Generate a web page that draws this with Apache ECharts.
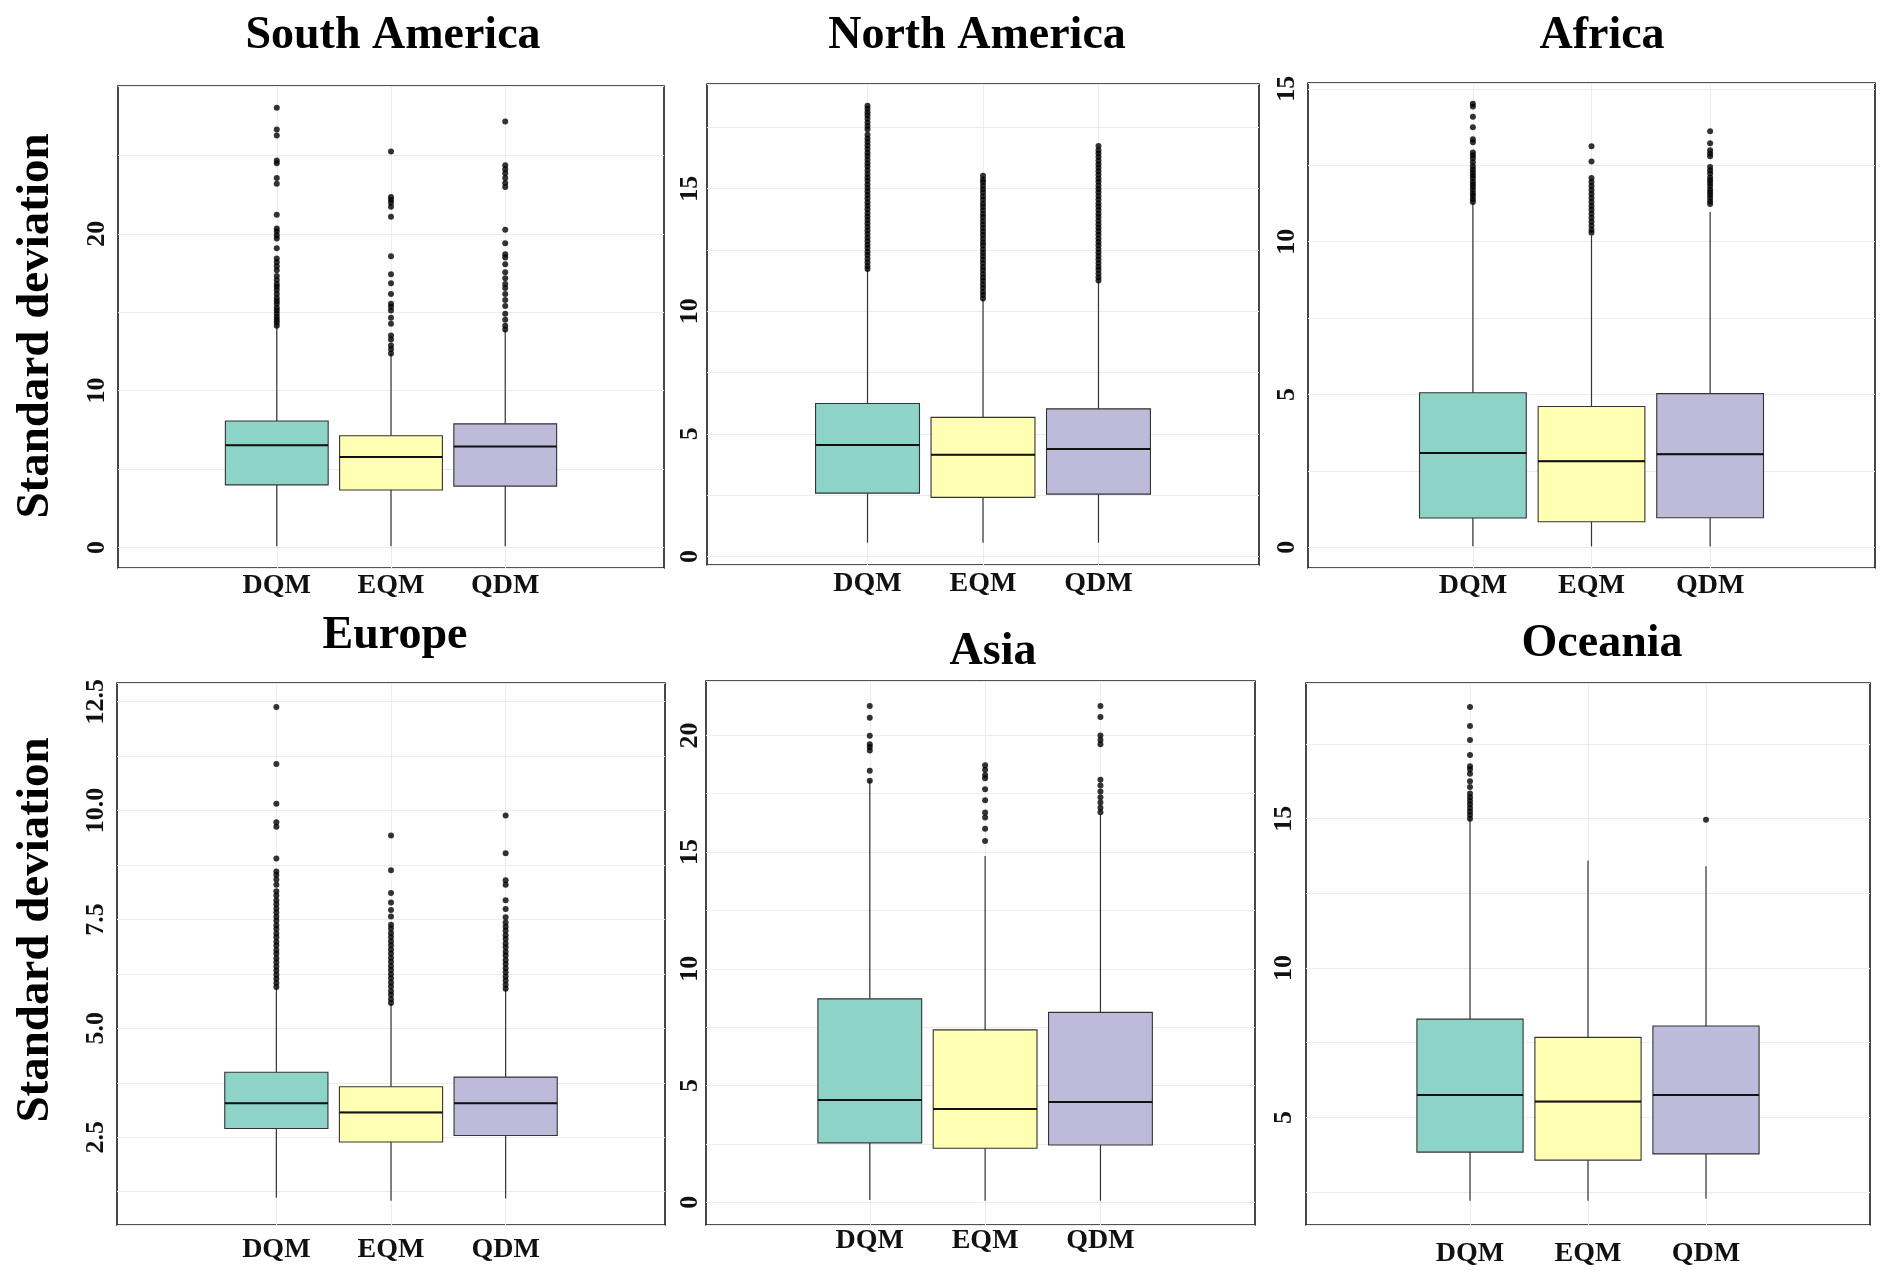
<!DOCTYPE html>
<html><head><meta charset="utf-8">
<script src="https://cdn.jsdelivr.net/npm/echarts@6/dist/echarts.min.js"></script>
<style>html,body{margin:0;padding:0;background:#fff}#c{width:1892px;height:1287px}</style>
</head><body><div id="c"></div>
<script>
// ---------------- DATA ----------------
const methods = ['DQM', 'EQM', 'QDM'];
const methodPos = [1, 2, 3];
const regions = ['South America', 'North America', 'Africa', 'Europe', 'Asia', 'Oceania'];
const xRanges = [[-0.39, 4.39], [-0.39, 4.39], [-0.39, 4.39], [-0.39, 4.39], [-0.42, 4.34], [-0.39, 4.39]];
const yRanges = [[-1.31, 29.42], [-0.35, 19.27], [-0.675, 15.19], [0.484, 12.93], [-0.98, 22.33], [1.40, 19.54]];
const gridSteps = [5, 2.5, 2.5, 1.25, 2.5, 2.5];
const labelSteps = [10, 5, 5, 2.5, 5, 5];
const labelDecimals = [0, 0, 0, 1, 0, 0];

// box statistics per method: [lower whisker, Q1, median, Q3, upper whisker]
const saStats = [[0.08, 3.99, 6.52, 8.06, 14.12], [0.08, 3.66, 5.76, 7.12, 12.37], [0.08, 3.91, 6.44, 7.88, 13.85]];
const naStats = [[0.56, 2.58, 4.54, 6.24, 11.70], [0.56, 2.41, 4.15, 5.67, 10.51], [0.56, 2.54, 4.38, 6.02, 11.23]];
const afStats = [[0.04, 0.96, 3.09, 5.06, 11.27], [0.03, 0.84, 2.82, 4.61, 10.19], [0.03, 0.97, 3.05, 5.03, 10.97]];
const euStats = [[1.11, 2.70, 3.28, 3.99, 5.93], [1.04, 2.39, 3.07, 3.66, 5.57], [1.09, 2.54, 3.28, 3.88, 5.90]];
const asStats = [[0.09, 2.54, 4.38, 8.71, 18.06], [0.06, 2.31, 3.99, 7.38, 14.83], [0.06, 2.45, 4.29, 8.13, 16.59]];
const ocStats = [[2.21, 3.84, 5.75, 8.29, 15.0], [2.21, 3.57, 5.53, 7.68, 13.6], [2.28, 3.78, 5.75, 8.06, 13.41]];

// outliers per method
const saOut = [
  [14.14, 14.34, 14.52, 14.70, 14.90, 15.10, 15.28, 15.53, 15.71, 15.91, 16.16, 16.41, 16.62, 16.79, 17.05, 17.30, 17.68, 17.93, 18.18, 18.43, 19.07, 19.7, 19.9, 20.15, 20.33, 21.21, 23.18, 23.56, 24.49, 24.67, 26.26, 26.64, 28.03],
  [12.37, 12.63, 12.88, 13.26, 13.51, 14.27, 14.65, 15.10, 15.35, 15.53, 16.16, 16.84, 17.42, 18.56, 21.09, 21.72, 21.97, 22.17, 22.35, 25.25],
  [13.89, 14.14, 14.52, 14.90, 15.40, 15.78, 16.16, 16.54, 16.79, 17.17, 17.55, 18.06, 18.48, 18.69, 19.39, 20.25, 22.98, 23.23, 23.56, 23.86, 24.12, 24.37, 27.15]
];
const naOut = [
  [11.72, 11.85, 12.0, 12.14, 12.3, 12.43, 12.58, 12.71, 12.86, 13.0, 13.15, 13.29, 13.44, 13.58, 13.72, 13.87, 14.01, 14.16, 14.3, 14.45, 14.6, 14.74, 14.88, 15.03, 15.17, 15.32, 15.46, 15.6, 15.75, 15.9, 16.04, 16.18, 16.33, 16.47, 16.62, 16.76, 16.9, 17.05, 17.2, 17.42, 17.56, 17.7, 17.85, 18.0, 18.12, 18.26, 18.38],
  [10.52, 10.66, 10.8, 10.95, 11.09, 11.24, 11.38, 11.52, 11.67, 11.81, 11.96, 12.1, 12.24, 12.39, 12.53, 12.68, 12.82, 12.96, 13.11, 13.25, 13.4, 13.54, 13.68, 13.83, 13.97, 14.12, 14.26, 14.4, 14.55, 14.69, 14.84, 14.98, 15.12, 15.26, 15.37, 15.53],
  [11.25, 11.39, 11.53, 11.68, 11.82, 11.97, 12.11, 12.25, 12.4, 12.54, 12.69, 12.83, 12.97, 13.12, 13.26, 13.41, 13.55, 13.69, 13.84, 13.98, 14.13, 14.27, 14.41, 14.56, 14.7, 14.85, 14.99, 15.13, 15.28, 15.42, 15.57, 15.71, 15.85, 16.0, 16.14, 16.29, 16.43, 16.57, 16.74]
];
const afOut = [
  [11.30, 11.39, 11.49, 11.58, 11.69, 11.79, 11.88, 11.97, 12.08, 12.17, 12.27, 12.36, 12.47, 12.60, 12.73, 12.83, 12.92, 13.25, 13.35, 13.74, 14.09, 14.42, 14.51],
  [10.29, 10.39, 10.52, 10.65, 10.78, 10.91, 11.04, 11.17, 11.30, 11.43, 11.56, 11.69, 11.82, 11.95, 12.08, 12.62, 13.12],
  [11.23, 11.32, 11.43, 11.53, 11.62, 11.71, 11.82, 11.92, 12.01, 12.10, 12.23, 12.34, 12.44, 12.79, 12.88, 12.99, 13.22, 13.61]
];
const euOut = [
  [5.95, 6.04, 6.14, 6.23, 6.33, 6.42, 6.52, 6.61, 6.71, 6.8, 6.9, 6.99, 7.09, 7.18, 7.28, 7.37, 7.47, 7.56, 7.66, 7.75, 7.85, 7.94, 8.05, 8.15, 8.3, 8.42, 8.52, 8.6, 8.9, 9.63, 9.73, 10.16, 11.07, 12.38],
  [5.58, 5.67, 5.77, 5.86, 5.96, 6.05, 6.15, 6.24, 6.34, 6.43, 6.53, 6.62, 6.72, 6.81, 6.91, 7.0, 7.1, 7.19, 7.29, 7.38, 7.57, 7.72, 7.89, 8.11, 8.63, 9.43],
  [5.91, 6.0, 6.1, 6.19, 6.29, 6.38, 6.48, 6.57, 6.67, 6.76, 6.86, 6.95, 7.05, 7.14, 7.24, 7.33, 7.43, 7.55, 7.74, 7.94, 8.3, 8.4, 9.02, 9.89]
];
const asOut = [
  [18.06, 18.48, 19.35, 19.5, 19.62, 19.98, 20.75, 21.26],
  [15.47, 16.0, 16.48, 16.69, 17.22, 17.69, 18.16, 18.3, 18.53, 18.72],
  [16.71, 16.9, 17.12, 17.35, 17.59, 17.85, 18.10, 19.62, 19.8, 20.0, 20.79, 21.26]
];
const ocOut = [
  [15.0, 15.12, 15.24, 15.36, 15.48, 15.6, 15.72, 15.84, 16.06, 16.25, 16.5, 16.65, 16.75, 17.13, 17.63, 18.1, 18.74],
  [],
  [14.96]
];

const allStats = [saStats, naStats, afStats, euStats, asStats, ocStats];
const allOut = [saOut, naOut, afOut, euOut, asOut, ocOut];

// ---------------- LAYOUT / STYLE ----------------
const FONT = 'Liberation Serif';
const fills = ['#8DD3C7', '#FFFFB3', '#BEBADA'];
const BOX_FRAC = 0.9;
const grids = [
  { left: 118, top: 86, width: 546, height: 482 },
  { left: 707, top: 84, width: 552, height: 481 },
  { left: 1308, top: 83, width: 567, height: 485 },
  { left: 117, top: 683, width: 548, height: 542 },
  { left: 706, top: 681, width: 549, height: 544 },
  { left: 1306, top: 683, width: 564, height: 542 }
];
const xLabelMargins = [4, 5, 4, 11, 2, 15];
const yLabelMargins = [8, 4, 8, 8, 3, 9];
const titlePos = [[393, 36], [977, 36], [1602, 36], [395, 636], [993, 652], [1602, 644]];

function yFmt(step, dec) {
  return function (v) {
    const r = v / step;
    return Math.abs(r - Math.round(r)) < 1e-6 ? v.toFixed(dec) : '';
  };
}
function xFmt(v) {
  const i = methodPos.indexOf(Math.round(v));
  return (Math.abs(v - Math.round(v)) < 1e-6 && i >= 0) ? methods[i] : '';
}

const option = {
  animation: false,
  backgroundColor: '#fff',
  grid: [], xAxis: [], yAxis: [], series: [], graphic: []
};

regions.forEach(function (name, k) {
  const xr = xRanges[k];
  option.grid.push(Object.assign({ show: true, borderColor: '#1a1a1a', borderWidth: 1.6, backgroundColor: 'transparent' }, grids[k]));
  option.xAxis.push({
    type: 'value', gridIndex: k, min: xr[0], max: xr[1],
    minInterval: 1, maxInterval: 1, splitNumber: 5,
    axisLine: { show: false }, axisTick: { show: false }, splitLine: { show: false },
    axisLabel: { formatter: xFmt, fontFamily: FONT, fontWeight: 'bold', fontSize: 28, color: '#111', margin: xLabelMargins[k], showMinLabel: false, showMaxLabel: false }
  });
  option.yAxis.push({
    type: 'value', gridIndex: k, min: yRanges[k][0], max: yRanges[k][1],
    minInterval: gridSteps[k], maxInterval: gridSteps[k], splitNumber: 8,
    axisLine: { show: false }, axisTick: { show: false },
    splitLine: { show: true, lineStyle: { color: '#ececec', width: 1 } },
    axisLabel: { formatter: yFmt(labelSteps[k], labelDecimals[k]), rotate: 90, fontFamily: FONT, fontWeight: 'bold', fontSize: 26, color: '#111', margin: yLabelMargins[k], showMinLabel: false, showMaxLabel: false }
  });
  const stats = allStats[k];
  // vertical grid lines at the method positions (under everything)
  option.series.push({
    type: 'line', xAxisIndex: k, yAxisIndex: k, data: [], z: 1, silent: true,
    markLine: {
      silent: true, z: 1, symbol: ['none', 'none'], label: { show: false },
      lineStyle: { color: '#ececec', width: 1, type: 'solid' },
      data: methodPos.map(function (p) { return { xAxis: p }; })
    }
  });
  // whiskers
  option.series.push({
    type: 'custom', xAxisIndex: k, yAxisIndex: k, z: 3, silent: true,
    encode: { x: 0, y: [1, 2, 3, 4] },
    data: stats.map(function (s, i) { return [methodPos[i], s[0], s[1], s[3], s[4]]; }),
    renderItem: function (params, api) {
      const x = api.value(0);
      const a = api.coord([x, api.value(1)]), b = api.coord([x, api.value(2)]);
      const c = api.coord([x, api.value(3)]), d = api.coord([x, api.value(4)]);
      const st = { stroke: '#333', lineWidth: 1.2 };
      return { type: 'group', children: [
        { type: 'line', shape: { x1: a[0], y1: a[1], x2: b[0], y2: b[1] }, style: st },
        { type: 'line', shape: { x1: c[0], y1: c[1], x2: d[0], y2: d[1] }, style: st }
      ] };
    }
  });
  // boxes (hinges only)
  const bw = BOX_FRAC * grids[k].width / (xr[1] - xr[0]);
  option.series.push({
    type: 'boxplot', xAxisIndex: k, yAxisIndex: k, z: 4, silent: true,
    boxWidth: [bw, bw],
    data: stats.map(function (s, i) {
      return { value: [methodPos[i], s[1], s[1], s[2], s[3], s[3]], itemStyle: { color: fills[i], borderColor: '#333', borderWidth: 1.1 } };
    })
  });
  // bold median lines
  option.series.push({
    type: 'custom', xAxisIndex: k, yAxisIndex: k, z: 5, silent: true,
    encode: { x: 0, y: 1 },
    data: stats.map(function (s, i) { return [methodPos[i], s[2]]; }),
    renderItem: function (params, api) {
      const p = api.coord([api.value(0), api.value(1)]);
      const w = api.size([BOX_FRAC, 0])[0];
      return { type: 'line', shape: { x1: p[0] - w / 2, y1: p[1], x2: p[0] + w / 2, y2: p[1] }, style: { stroke: '#111', lineWidth: 2 } };
    }
  });
  // outliers
  const pts = [];
  allOut[k].forEach(function (arr, i) { arr.forEach(function (v) { pts.push([methodPos[i], v]); }); });
  option.series.push({
    type: 'scatter', xAxisIndex: k, yAxisIndex: k, z: 6, silent: true,
    symbol: 'circle', symbolSize: 6, itemStyle: { color: '#000' }, data: pts
  });
  option.graphic.push({
    type: 'text', x: titlePos[k][0], y: titlePos[k][1], silent: true,
    style: { text: name, fontFamily: FONT, fontWeight: 'bold', fontSize: 46, fill: '#000', align: 'center', verticalAlign: 'middle' }
  });
});

// y-axis titles (left column)
[[36, 326], [36, 930]].forEach(function (p) {
  option.graphic.push({
    type: 'text', x: p[0], y: p[1], rotation: Math.PI / 2, silent: true,
    style: { text: 'Standard deviation', fontFamily: FONT, fontWeight: 'bold', fontSize: 47, fill: '#000', align: 'center', verticalAlign: 'middle' }
  });
});

const chart = echarts.init(document.getElementById('c'), null, { renderer: 'canvas' });
chart.setOption(option);
</script>
</body></html>
